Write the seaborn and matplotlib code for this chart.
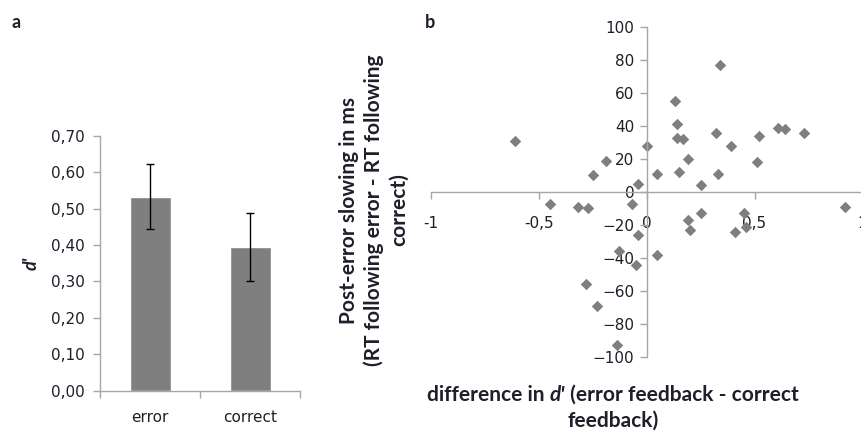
import matplotlib
matplotlib.use("Agg")
import matplotlib.pyplot as plt
import matplotlib.ticker as mticker
import numpy as np
import pandas as pd
import seaborn as sns

# Panel a: mean d' per feedback condition with error bars
conditions = ["error", "correct"]
dprime_mean = [0.533, 0.395]
dprime_err = [0.089, 0.094]

# Panel b: per-participant d' difference vs. post-error slowing (ms)
dprime_diff = [-0.61, -0.25, -0.19, -0.04, 0.00, 0.05, 0.13, 0.14, 0.14, 0.17,
               0.19, 0.15, 0.25, 0.34, 0.32, 0.39, 0.33, 0.52, 0.51, 0.61,
               0.64, 0.73,
               -0.45, -0.32, -0.27, -0.07, -0.04, -0.13, -0.05, 0.05, -0.28,
               -0.23, -0.14, 0.19, 0.25, 0.20, 0.45, 0.41, 0.46, 0.92]
pes_ms = [31, 10, 19, 5, 28, 11, 55, 41, 33, 32,
          20, 12, 4, 77, 36, 28, 11, 34, 18, 39,
          38, 36,
          -7, -9, -10, -7, -26, -36, -44, -38, -56,
          -69, -93, -17, -13, -23, -13, -24, -21, -9]

bar_yticks = [0.0, 0.1, 0.2, 0.3, 0.4, 0.5, 0.6, 0.7]
scatter_xticks = [-1, -0.5, 0, 0.5, 1]
scatter_yticks = [-100, -80, -60, -40, -20, 0, 20, 40, 60, 80, 100]

sns.set_theme(style="white")
plt.rcParams["font.family"] = ["DejaVu Sans"]

GRAY = "#7f7f7f"
AXIS = "#a6a6a6"
TEXT = "#1f1f2a"
TITLE_FONT = ["Lato", "DejaVu Sans"]
TITLE_SIZE = 15

fig = plt.figure(figsize=(8.61, 4.32), dpi=100)

# ---- panel a ----
ax1 = fig.add_axes([100 / 861, 1 - 390.7 / 432, 200 / 861, 255 / 432])
bar_df = pd.DataFrame({"condition": conditions, "dprime": dprime_mean})
sns.barplot(data=bar_df, x="condition", y="dprime", color=GRAY, saturation=1,
            width=0.41, errorbar=None, ax=ax1, zorder=2)
ax1.errorbar(x=np.arange(len(conditions)), y=dprime_mean, yerr=dprime_err,
             fmt="none", ecolor="black", elinewidth=1.0, capsize=3.2,
             capthick=1.0, zorder=3)
ax1.set_xlim(-0.5, 1.5)
ax1.set_ylim(0, 0.7)
ax1.set_yticks(bar_yticks)
ax1.yaxis.set_major_formatter(
    mticker.FuncFormatter(lambda v, p: f"{v:.2f}".replace(".", ",")))
ax1.set_xticks([-0.5, 0.5, 1.5], minor=False)
ax1.set_xticklabels([])
ax1.set_xticks([0, 1], minor=True)
ax1.set_xticklabels(conditions, minor=True)
ax1.tick_params(axis="x", which="major", direction="out", length=5,
                width=1, color=AXIS, bottom=True)
ax1.tick_params(axis="x", which="minor", length=0, pad=14, labelsize=11,
                labelcolor=TEXT)
ax1.tick_params(axis="y", direction="out", length=5, width=1, color=AXIS,
                left=True, labelsize=11, labelcolor=TEXT, pad=6)
for s in ["top", "right"]:
    ax1.spines[s].set_visible(False)
for s in ["left", "bottom"]:
    ax1.spines[s].set_color(AXIS)
    ax1.spines[s].set_linewidth(1)
ax1.set_xlabel("")
ax1.set_ylabel("d'", fontsize=13, fontweight="bold", style="italic",
               color=TEXT, family=TITLE_FONT, labelpad=8)
ax1.grid(False)

# ---- panel b ----
ax2 = fig.add_axes([431 / 861, 1 - 357 / 432, 431.4 / 861, 330 / 432])
scat_df = pd.DataFrame({"diff": dprime_diff, "pes": pes_ms})
sns.scatterplot(data=scat_df, x="diff", y="pes", marker="D", s=34,
                color=GRAY, linewidth=0, ax=ax2, zorder=1)
ax2.set_xlim(-1, 1)
ax2.set_ylim(-100, 100)
ax2.set_xticks(scatter_xticks)
ax2.set_yticks(scatter_yticks)
ax2.xaxis.set_major_formatter(
    mticker.FuncFormatter(lambda v, p: f"{v:g}".replace(".", ",")))
ax2.spines["left"].set_position(("data", 0))
ax2.spines["bottom"].set_position(("data", 0))
for s in ["top", "right"]:
    ax2.spines[s].set_visible(False)
for s in ["left", "bottom"]:
    ax2.spines[s].set_color(AXIS)
    ax2.spines[s].set_linewidth(1)
ax2.tick_params(axis="x", direction="out", length=5, width=1, color=AXIS,
                bottom=True, labelsize=11, labelcolor=TEXT, pad=12)
ax2.tick_params(axis="y", direction="out", length=5, width=1, color=AXIS,
                left=True, labelsize=11, labelcolor=TEXT, pad=4)
ax2.set_xlabel("")
ax2.set_ylabel("")
ax2.grid(False)

fig.text(374 / 861, 1 - 210 / 432,
         "Post-error slowing in ms\n(RT following error - RT following\ncorrect)",
         rotation=90, ha="center", va="center", fontsize=TITLE_SIZE,
         fontweight="bold", color=TEXT, family=TITLE_FONT, linespacing=1.3)

# x title of panel b: first line mixes upright and italic runs
renderer = fig.canvas.get_renderer()
runs = [("difference in ", "normal"), ("d'", "italic"),
        (" (error feedback - correct", "normal")]
pieces = []
for txt, sty in runs:
    t = fig.text(0, 1 - 395 / 432, txt, ha="left", va="center",
                 fontsize=TITLE_SIZE, fontweight="bold", style=sty,
                 color=TEXT, family=TITLE_FONT)
    pieces.append(t)
widths = [p.get_window_extent(renderer).width for p in pieces]
x0 = 613 - sum(widths) / 2
for p, w in zip(pieces, widths):
    p.set_x(x0 / 861)
    x0 += w
fig.text(613 / 861, 1 - 421 / 432, "feedback)", ha="center", va="center",
         fontsize=TITLE_SIZE, fontweight="bold", color=TEXT,
         family=TITLE_FONT)

fig.text(12 / 861, 1 - 22 / 432, "a", fontsize=13, fontweight="bold",
         color=TEXT, ha="left", va="center", family=TITLE_FONT)
fig.text(425 / 861, 1 - 22 / 432, "b", fontsize=13, fontweight="bold",
         color=TEXT, ha="left", va="center", family=TITLE_FONT)

fig.savefig("out.png", dpi=100)
